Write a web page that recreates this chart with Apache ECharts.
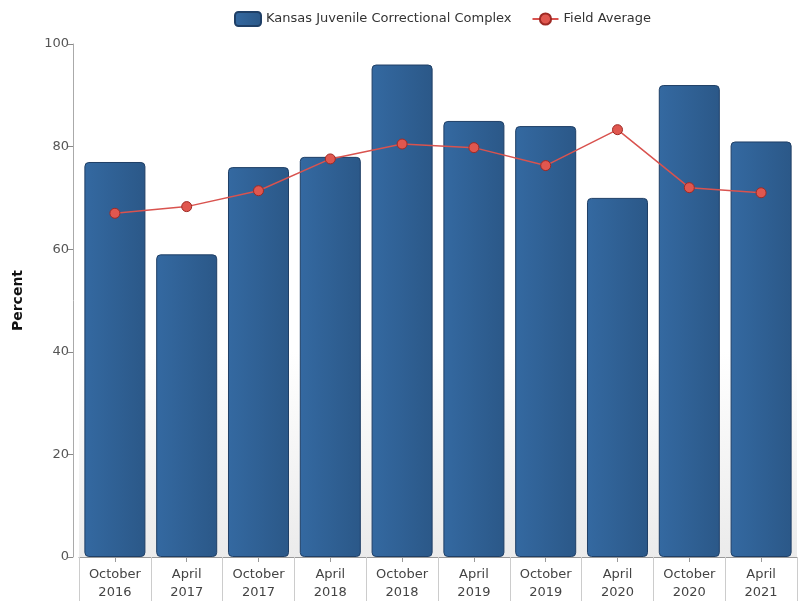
<!DOCTYPE html>
<html><head><meta charset="utf-8">
<script src="https://cdn.jsdelivr.net/npm/echarts@6/dist/echarts.min.js"></script>
<style>html,body{margin:0;padding:0;background:#fff}#c{width:798px;height:602px}</style>
</head><body><div id="c"></div>
<script>
const categories = ["October\n2016","April\n2017","October\n2017","April\n2018","October\n2018","April\n2019","October\n2019","April\n2020","October\n2020","April\n2021"];
const kjccValues = [77, 59, 76, 78, 96, 85, 84, 70, 92, 81];
const fieldAverage = [67, 68.3, 71.4, 77.6, 80.5, 79.8, 76.3, 83.3, 72, 71];
const yTicks = [0, 20, 40, 60, 80, 100];

const chart = echarts.init(document.getElementById('c'));
const font = 'DejaVu Sans';
chart.setOption({
  animation: false,
  textStyle: {fontFamily: font},
  legend: {
    top: 6, left: 229, itemGap: 20, itemWidth: 26, itemHeight: 14,
    textStyle: {fontFamily: font, fontSize: 13, color: '#333'},
    data: [
      {name: 'Kansas Juvenile Correctional Complex', icon: 'roundRect'},
      {name: 'Field Average'}
    ]
  },
  grid: {left: 79, right: 1, top: 44, bottom: 44, show: true, borderWidth: 0,
    backgroundColor: {type: 'linear', x: 0, y: 0, x2: 0, y2: 1, colorStops: [
      {offset: 0, color: '#ffffff'}, {offset: 0.6, color: '#ffffff'}, {offset: 1, color: '#ebebeb'}]}},
  xAxis: [{
    type: 'category', data: categories,
    axisLine: {lineStyle: {color: '#999'}},
    axisTick: {show: true, length: 44, lineStyle: {color: '#ccc'}},
    axisLabel: {color: '#444', fontSize: 13, lineHeight: 18, margin: 9, interval: 0}
  }, {
    type: 'category', data: categories, position: 'bottom',
    axisLine: {show: false},
    axisTick: {show: true, alignWithLabel: true, length: 5, lineStyle: {color: '#999'}},
    axisLabel: {show: false}
  }],
  yAxis: {
    type: 'value', min: 0, max: 100, interval: 20, offset: 6,
    name: 'Percent', nameLocation: 'middle', nameGap: 48,
    nameTextStyle: {fontFamily: font, fontWeight: 'bold', fontSize: 14, color: '#111'},
    axisLine: {show: true, lineStyle: {color: '#aaa'}},
    axisTick: {show: true, length: 5, lineStyle: {color: '#888'}},
    axisLabel: {color: '#555', fontSize: 13, margin: 4,
      formatter: v => yTicks.includes(v) ? String(v) : ''},
    splitLine: {show: false}
  },
  series: [{
    name: 'Kansas Juvenile Correctional Complex', type: 'bar', data: kjccValues,
    barCategoryGap: '15%',
    itemStyle: {
      borderRadius: 4, borderColor: '#1f3f66', borderWidth: 1,
      color: {type: 'linear', x: 0, y: 0, x2: 1, y2: 0, colorStops: [
        {offset: 0, color: '#3469a1'}, {offset: 1, color: '#2b5888'}]}
    }
  }, {
    name: 'Field Average', type: 'line', data: fieldAverage, xAxisIndex: 0,
    symbol: 'circle', symbolSize: 10,
    lineStyle: {color: '#d9534f', width: 1.5},
    itemStyle: {color: '#e0574f', borderColor: '#9e2a25', borderWidth: 1}
  }]
});
</script></body></html>
